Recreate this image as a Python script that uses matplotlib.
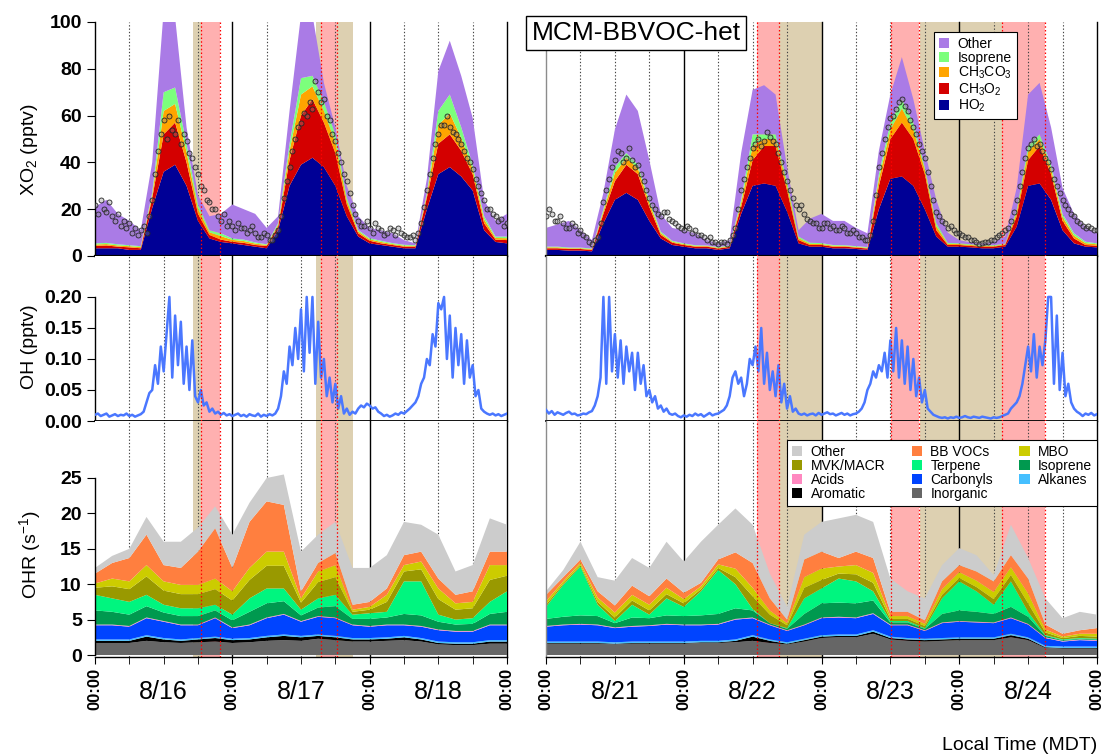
import matplotlib
matplotlib.use("Agg")
import matplotlib.pyplot as plt
import numpy as np
from matplotlib.ticker import FormatStrFormatter

plt.rcParams["font.family"] = ["Liberation Sans", "DejaVu Sans"]
plt.rcParams["mathtext.fontset"] = "custom"
plt.rcParams["mathtext.rm"] = "Liberation Sans"
plt.rcParams["mathtext.default"] = "regular"
plt.rcParams["axes.linewidth"] = 1.0

NARROW = ["Liberation Sans Narrow", "Liberation Sans", "DejaVu Sans"]

# hours since 00:00 of the first day in each block (8/16 and 8/21)
days_l = ["8/16", "8/17", "8/18"]
days_r = ["8/21", "8/22", "8/23", "8/24"]

# smoke-affected periods (tan) and plume intercepts (pink), in block hours
tan_l = [(17.1, 18.5), (38.6, 45.1)]
pink_l = [(18.5, 21.85), (39.5, 42.3)]
tan_r = [(40.6, 48.0), (65.2, 79.4)]
pink_r = [(36.76, 40.6), (60.1, 65.0), (79.4, 86.9)]

# ---- modelled XO2 components (pptv), every 2 h ----
t2_l = np.arange(0, 73, 2)
ho2_l = [3.3, 3.3, 3.3, 2.6, 2.6, 20.5, 36, 39, 30, 15, 7.5, 6.0, 5.4, 4.7, 4.0, 3.3, 11, 30, 39, 42,
         38, 30, 17, 8.3, 5.4, 4.7, 4.0, 3.3, 3.3, 20, 35, 38, 34, 28, 11, 6.0, 5.4]
ch3o2_l = [1.0, 1.2, 0.7, 1.1, 0.7, 4.3, 16, 18, 10, 3.0, 1.5, 1.0, 0.7, 0.9, 0.7, 1.0, 1.5, 11, 21, 25,
           19, 14, 5.0, 1.4, 1.1, 0.7, 0.7, 0.7, 0.7, 5.0, 13, 14, 11, 7.0, 3.0, 1.0, 1.4]
ch3co3_l = [0.6, 0.6, 0.5, 0.5, 0.5, 1.2, 10, 8.0, 4.5, 2.2, 1.1, 1.5, 0.8, 0.8, 0.6, 0.4, 0.8, 4.0, 9.0, 5.5,
            5.0, 4.5, 1.7, 0.8, 0.6, 0.6, 0.4, 0.4, 0.3, 1.1, 8.0, 9.0, 5.5, 2.2, 1.7, 0.7, 0.8]
isop_xo2_l = [0.5, 0.5, 0.5, 0.4, 0.4, 1.0, 8.0, 7.0, 3.5, 1.8, 0.9, 1.2, 0.6, 0.6, 0.5, 0.3, 0.7, 3.0, 7.0, 4.5,
              4.0, 3.5, 1.3, 0.6, 0.5, 0.5, 0.4, 0.4, 0.3, 0.9, 6.0, 8.0, 4.5, 1.8, 1.3, 0.6, 0.7]
other_xo2_l = [15.6, 18.4, 13.0, 10.4, 6.8, 13.0, 35, 30, 7.0, 4.0, 6.0, 8.3, 14.5, 13.0, 12.2, 7.0, 3.0, 14, 27, 26,
               8.0, 3.0, 5.0, 5.9, 4.4, 4.5, 4.2, 2.0, 0.8, 6.0, 17, 23, 22, 20, 7.0, 6.7, 9.7]

t2_r = np.arange(0, 97, 2)
ho2_r = [2.6, 2.6, 2.3, 2.3, 2.0, 14, 24, 27, 24, 15, 7.5, 4.7, 4.0, 3.3, 3.3, 2.6, 3.3, 18, 30, 31,
         30, 19, 5.4, 4.0, 4.0, 3.3, 3.3, 3.0, 2.6, 20, 33, 34, 30, 20, 8.3, 4.0, 4.0, 3.7, 3.3, 3.3,
         4.0, 12.5, 30, 31, 24, 11, 5.4, 4.0, 3.7]
ch3o2_r = [0.7, 0.7, 0.7, 0.7, 0.6, 4.0, 8.0, 12, 11, 6.0, 1.5, 1.0, 0.7, 0.7, 0.7, 0.6, 0.6, 3.0, 11, 16,
           17, 9.0, 1.4, 0.7, 0.7, 0.7, 0.7, 0.6, 0.6, 10, 17, 23, 20, 15, 2.7, 0.7, 0.7, 0.6, 0.7, 0.7,
           0.7, 4.3, 11, 16, 11, 4.0, 2.1, 0.7, 0.7]
ch3co3_r = [0.4, 0.4, 0.3, 0.3, 0.3, 1.1, 3.5, 3.0, 2.5, 1.7, 0.8, 0.4, 0.4, 0.3, 0.3, 0.3, 0.3, 1.7, 6.0, 3.0,
            3.0, 2.2, 0.8, 0.5, 0.4, 0.4, 0.3, 0.3, 0.3, 3.0, 4.0, 6.0, 4.0, 2.0, 1.7, 0.5, 0.4, 0.4, 0.3, 0.3,
            0.3, 1.6, 3.5, 3.0, 2.2, 1.7, 1.2, 0.8, 0.6]
isop_xo2_r = [0.3, 0.3, 0.3, 0.3, 0.3, 0.9, 2.5, 2.0, 1.5, 1.3, 0.6, 0.4, 0.3, 0.3, 0.2, 0.3, 0.3, 1.3, 5.0, 2.0,
              2.0, 1.8, 0.7, 0.5, 0.4, 0.3, 0.3, 0.3, 0.3, 2.0, 3.0, 4.0, 3.0, 1.0, 1.3, 0.4, 0.3, 0.3, 0.3, 0.3,
              0.3, 1.3, 2.5, 2.0, 1.8, 1.3, 1.0, 0.6, 0.4]
other_xo2_r = [8.0, 9.5, 11.4, 7.4, 3.6, 7.0, 16, 25, 23, 17, 7.6, 5.5, 5.6, 5.1, 2.3, 1.6, 2.3, 20, 19, 21,
               17, 6.0, 2.7, 10.3, 12.5, 10.3, 10.4, 7.8, 5.9, 10, 12, 18, 10, 7.0, 10, 4.4, 1.4, 0.8, 0.8, 1.5,
               3.0, 9.3, 22, 22, 16, 11, 8.3, 6.4, 4.3]

# ---- measured XO2 (pptv) and modelled OH (pptv), every 30 min ----
th_l = np.arange(0, 72.5, 0.5)
meas_l = [22, 18, 24, 20, 19, 23, 17, 15, 18, 13, 15, 12, 14, 10, 12, 9, 11, 13,
          10, 17, 24, 35, 45, 52, 58, 50, 60, 54, 52, 58, 48, 52, 49, 44, 42, 38, 35, 30, 28, 24, 23, 20,
          20, 17, 15, 18, 13, 15, 13, 11, 14, 12, 12, 10, 11, 13, 10, 8, 8, 10, 9, 7, 7, 9,
          11, 17, 25, 32, 38, 45, 50, 55, 57, 61, 60, 66, 63, 75, 70, 66, 67, 60, 58, 52, 49, 44, 40, 35, 32, 27, 22, 18,
          15, 13, 13, 15, 12, 10, 14, 12, 11, 9, 10, 12, 11, 9, 12, 10, 9, 8, 8, 9,
          7, 10, 14, 21, 28, 35, 42, 48, 52, 56, 56, 60, 55, 53, 52, 50, 48, 45, 42, 40, 37, 33, 30, 27, 24, 20,
          20, 18, 17, 15, 16, 13, 14]
oh_l = [0.010, 0.012, 0.008, 0.010, 0.012, 0.007, 0.009, 0.011, 0.008, 0.010, 0.009, 0.012, 0.008, 0.010,
        0.007, 0.009, 0.011, 0.015,
        0.03, 0.045, 0.05, 0.09, 0.06, 0.12, 0.08, 0.14, 0.20, 0.07, 0.17, 0.09, 0.16, 0.06, 0.12, 0.05,
        0.13, 0.04, 0.03, 0.05, 0.025, 0.03, 0.015, 0.02,
        0.012, 0.015, 0.010, 0.013, 0.009, 0.011, 0.008, 0.010, 0.012, 0.008, 0.010, 0.007, 0.011, 0.009,
        0.008, 0.012, 0.007, 0.010, 0.008, 0.011, 0.009, 0.012,
        0.02, 0.04, 0.08, 0.06, 0.12, 0.09, 0.15, 0.10, 0.18, 0.08, 0.20, 0.11, 0.20, 0.06, 0.16, 0.07,
        0.10, 0.04, 0.07, 0.03, 0.06, 0.02, 0.04, 0.012, 0.02, 0.010, 0.015, 0.012,
        0.02, 0.025, 0.022, 0.028, 0.025, 0.02, 0.022, 0.015, 0.012, 0.008, 0.010, 0.007, 0.009, 0.012,
        0.010, 0.014, 0.012, 0.016, 0.02, 0.025,
        0.03, 0.04, 0.06, 0.07, 0.10, 0.09, 0.14, 0.12, 0.19, 0.18, 0.20, 0.10, 0.17, 0.07, 0.15, 0.09,
        0.14, 0.06, 0.13, 0.07, 0.09, 0.04, 0.05, 0.02, 0.015, 0.012, 0.010, 0.012, 0.009, 0.011, 0.008,
        0.010, 0.012]

th_r = np.arange(0, 96.5, 0.5)
meas_r = [17, 20, 18, 15, 15, 17, 14, 12, 12, 14, 13, 10, 11, 9, 8, 6, 5, 7,
          8, 14, 23, 28, 33, 38, 41, 45, 44, 40, 42, 46, 41, 38, 39, 35, 32, 28, 25, 22, 20, 18, 17, 19,
          19, 16, 15, 14,
          13, 12, 11, 13, 12, 10, 11, 9, 9, 8, 7, 8, 6, 6, 5, 6, 6, 5,
          7, 9, 12, 20, 28, 33, 38, 42, 46, 48, 50, 47, 49, 53, 51, 49, 48, 44, 40, 36, 32, 28, 25, 22,
          20, 22, 18, 16,
          15, 14, 14, 12, 12, 14, 14, 12, 13, 11, 11, 13, 12, 10, 10, 11, 9.7, 8, 8, 7,
          7, 9, 15, 26, 38, 44, 50, 55, 59, 60, 63, 66, 67, 64, 62, 58, 55, 52, 48, 45, 42, 36, 30, 24,
          19, 17,
          15, 14, 12, 13, 11, 10, 10, 9, 8, 8, 7, 7, 6, 5, 5.4, 6, 6, 7, 6.8, 8, 9, 10, 11, 12,
          15, 19, 24, 30, 36, 42, 46, 48, 50, 47, 48, 45, 42, 40, 37, 33, 30, 27, 24, 22, 20, 18, 17, 15,
          14, 13, 12, 13, 12, 11, 11]
oh_r = [0.018, 0.012, 0.016, 0.010, 0.014, 0.012, 0.010, 0.013, 0.015, 0.011, 0.012, 0.009, 0.010, 0.012,
        0.011, 0.014, 0.016, 0.025,
        0.04, 0.07, 0.20, 0.06, 0.20, 0.08, 0.14, 0.07, 0.13, 0.06, 0.12, 0.08, 0.11, 0.05, 0.11, 0.06,
        0.09, 0.04, 0.05, 0.03, 0.04, 0.02, 0.025, 0.015, 0.02, 0.012, 0.010, 0.012,
        0.008, 0.006, 0.009, 0.007, 0.010, 0.008, 0.012, 0.009, 0.011, 0.007, 0.010, 0.013, 0.009, 0.011,
        0.012, 0.015, 0.018, 0.025,
        0.04, 0.07, 0.08, 0.06, 0.07, 0.04, 0.06, 0.10, 0.09, 0.12, 0.08, 0.15, 0.06, 0.11, 0.05, 0.08,
        0.04, 0.09, 0.03, 0.06, 0.02, 0.04, 0.015, 0.02, 0.012, 0.010, 0.012, 0.009,
        0.011, 0.012, 0.009, 0.013, 0.010, 0.012, 0.014, 0.011, 0.012, 0.009, 0.011, 0.013, 0.010, 0.012,
        0.009, 0.011, 0.012, 0.015, 0.02, 0.03,
        0.05, 0.06, 0.08, 0.07, 0.09, 0.08, 0.11, 0.07, 0.13, 0.08, 0.15, 0.07, 0.13, 0.06, 0.12, 0.05,
        0.10, 0.04, 0.07, 0.03, 0.05, 0.02, 0.015, 0.01, 0.008, 0.006,
        0.005, 0.006, 0.004, 0.006, 0.005, 0.007, 0.005, 0.006, 0.008, 0.006, 0.005, 0.007, 0.006, 0.005,
        0.007, 0.006, 0.005, 0.004, 0.006, 0.005, 0.006, 0.008, 0.010, 0.012,
        0.02, 0.025, 0.03, 0.04, 0.06, 0.09, 0.12, 0.08, 0.14, 0.07, 0.12, 0.09, 0.13, 0.20, 0.20, 0.06,
        0.17, 0.05, 0.11, 0.04, 0.06, 0.03, 0.02, 0.015, 0.012, 0.008, 0.012, 0.010, 0.013, 0.009, 0.011]

# ---- OH reactivity by class (s-1), every 3 h ----
t3_l = np.arange(0, 73, 3)
inorganic_l = [1.7, 1.7, 1.7, 2.0, 1.8, 1.7, 1.8, 1.9, 1.7, 1.8, 2.0, 2.1, 2.0, 2.3, 2.1, 1.9, 1.9, 2.0, 2.1, 1.9, 1.5, 1.4, 1.4, 1.6, 1.6]
aromatic_l = [0.3, 0.3, 0.3, 0.6, 0.4, 0.3, 0.4, 0.5, 0.4, 0.4, 0.5, 0.6, 0.5, 0.4, 0.4, 0.3, 0.3, 0.3, 0.4, 0.3, 0.2, 0.2, 0.2, 0.3, 0.3]
alkanes_l = [0.2, 0.2, 0.2, 0.2, 0.2, 0.2, 0.2, 0.2, 0.2, 0.2, 0.2, 0.2, 0.2, 0.2, 0.2, 0.2, 0.2, 0.2, 0.2, 0.2, 0.2, 0.2, 0.2, 0.2, 0.2]
carbonyls_l = [2.0, 2.0, 1.8, 2.4, 2.3, 2.0, 1.8, 2.6, 1.5, 1.8, 2.5, 2.8, 2.0, 2.5, 2.5, 1.8, 1.6, 1.7, 1.5, 1.6, 1.6, 1.5, 1.5, 2.1, 2.1]
acids_l = [0.1, 0.1, 0.1, 0.1, 0.1, 0.1, 0.1, 0.1, 0.1, 0.1, 0.1, 0.1, 0.1, 0.1, 0.1, 0.1, 0.1, 0.1, 0.1, 0.1, 0.1, 0.1, 0.1, 0.1, 0.1]
isoprene_l = [2.0, 1.8, 1.6, 1.6, 1.2, 1.2, 1.2, 1.0, 1.0, 1.8, 2.0, 1.8, 0.8, 1.2, 1.6, 0.8, 1.0, 1.0, 1.5, 1.5, 1.1, 0.9, 1.0, 1.5, 1.8]
terpene_l = [2.2, 1.9, 1.8, 1.6, 1.1, 1.1, 1.1, 0.8, 0.8, 1.9, 2.1, 1.8, 0.8, 1.3, 1.6, 0.6, 0.8, 0.8, 4.6, 4.8, 1.0, 0.7, 0.8, 1.7, 2.9]
mvk_l = [1.0, 1.7, 1.8, 2.6, 2.0, 2.0, 2.0, 2.2, 2.0, 2.6, 3.2, 3.2, 1.0, 2.3, 2.5, 0.4, 0.5, 1.4, 1.4, 1.7, 2.2, 1.4, 1.4, 3.1, 2.2]
mbo_l = [0.6, 1.1, 1.1, 1.6, 1.3, 1.3, 1.3, 1.5, 1.3, 1.7, 2.0, 2.0, 0.6, 1.5, 1.7, 0.3, 0.4, 1.0, 0.9, 1.1, 1.5, 0.9, 0.9, 2.1, 1.5]
bbvoc_l = [1.4, 2.2, 3.3, 4.3, 2.3, 2.4, 4.7, 7.1, 3.3, 6.5, 7.1, 6.6, 1.0, 1.2, 1.7, 0.7, 0.7, 0.9, 1.4, 1.4, 1.4, 1.2, 1.5, 1.9, 1.9]
other_ohr_l = [0.8, 1.0, 1.3, 2.5, 3.3, 3.7, 3.4, 3.1, 4.7, 2.7, 3.3, 4.3, 5.6, 4.0, 4.4, 5.2, 4.8, 4.7, 4.7, 3.8, 6.2, 3.3, 3.7, 4.7, 3.8]

t3_r = np.arange(0, 97, 3)
inorganic_r = [1.6, 1.6, 1.6, 1.6, 1.5, 1.6, 1.6, 1.6, 1.6, 1.7, 1.7, 1.8, 2.0, 1.7, 1.5, 1.9, 2.4, 2.5, 2.5, 3.0, 2.2, 2.0, 1.9, 2.0, 2.1, 2.1, 2.1, 2.5, 2.1, 1.0, 0.9, 0.9, 0.9]
aromatic_r = [0.1, 0.1, 0.1, 0.1, 0.1, 0.1, 0.1, 0.1, 0.1, 0.1, 0.1, 0.2, 0.6, 0.3, 0.1, 0.2, 0.2, 0.2, 0.2, 0.3, 0.2, 0.2, 0.2, 0.2, 0.2, 0.2, 0.2, 0.3, 0.2, 0.1, 0.1, 0.1, 0.1]
alkanes_r = [0.2, 0.2, 0.2, 0.2, 0.2, 0.2, 0.2, 0.2, 0.2, 0.2, 0.2, 0.2, 0.2, 0.2, 0.2, 0.2, 0.2, 0.2, 0.2, 0.2, 0.2, 0.2, 0.2, 0.2, 0.2, 0.2, 0.2, 0.2, 0.2, 0.2, 0.2, 0.2, 0.2]
carbonyls_r = [2.1, 2.3, 2.4, 2.3, 2.0, 2.1, 2.2, 2.4, 2.3, 2.2, 2.3, 2.8, 2.4, 2.0, 1.6, 1.9, 2.4, 2.4, 2.3, 2.3, 1.6, 1.8, 1.1, 2.1, 2.2, 2.1, 2.0, 2.2, 1.8, 1.1, 0.7, 0.9, 0.8]
acids_r = [0.1, 0.1, 0.1, 0.1, 0.1, 0.1, 0.1, 0.1, 0.1, 0.1, 0.1, 0.1, 0.1, 0.1, 0.1, 0.1, 0.1, 0.1, 0.1, 0.1, 0.1, 0.1, 0.1, 0.1, 0.1, 0.1, 0.1, 0.1, 0.1, 0.1, 0.1, 0.1, 0.1]
isoprene_r = [1.0, 1.1, 1.2, 1.2, 0.6, 1.2, 1.0, 1.2, 1.2, 1.3, 1.4, 1.5, 1.0, 0.2, 0.2, 1.5, 2.0, 2.0, 2.0, 1.8, 0.3, 0.3, 0.2, 1.2, 1.5, 1.4, 1.2, 1.5, 1.0, 0.2, 0.1, 0.1, 0.1]
terpene_r = [1.7, 4.5, 6.9, 1.6, 0.3, 1.8, 0.5, 2.4, 1.3, 3.4, 6.2, 3.4, 0.2, 0.0, 0.1, 2.2, 2.1, 3.4, 3.1, 1.3, 0.2, 0.2, 0.1, 2.2, 4.1, 2.9, 1.3, 3.6, 0.7, 0.1, 0.1, 0.1, 0.1]
mvk_r = [0.3, 0.2, 0.2, 0.4, 0.5, 0.6, 0.6, 0.6, 0.5, 0.3, 0.3, 1.0, 1.8, 1.2, 0.4, 1.5, 1.2, 0.7, 1.0, 1.2, 0.3, 0.3, 0.3, 0.5, 0.5, 0.6, 0.8, 0.9, 1.2, 0.4, 0.2, 0.3, 0.3]
mbo_r = [0.5, 0.3, 0.3, 0.6, 0.7, 0.8, 0.8, 0.9, 0.6, 0.4, 0.5, 1.2, 1.2, 0.6, 0.3, 1.5, 1.6, 1.0, 1.3, 1.4, 0.4, 0.4, 0.3, 0.8, 0.8, 0.9, 1.0, 1.1, 1.4, 0.4, 0.2, 0.3, 0.4]
bbvoc_r = [0.9, 0.6, 0.5, 0.9, 1.0, 1.3, 1.2, 1.3, 0.9, 0.5, 0.7, 2.3, 3.5, 1.7, 0.5, 2.5, 2.4, 1.2, 1.9, 2.1, 0.6, 0.6, 0.5, 1.1, 1.0, 1.3, 1.5, 1.7, 2.1, 0.7, 0.4, 0.5, 0.8]
other_ohr_r = [0.5, 1.0, 2.5, 2.0, 3.5, 3.9, 4.0, 5.2, 4.4, 5.8, 4.9, 6.2, 5.4, 3.5, 1.8, 3.5, 4.2, 5.6, 5.2, 5.1, 4.7, 2.9, 3.1, 2.3, 2.4, 2.3, 0.9, 4.3, 2.9, 3.7, 2.2, 2.6, 1.9]

xo2_names = ["HO$_2$", "CH$_3$O$_2$", "CH$_3$CO$_3$", "Isoprene", "Other"]
xo2_colors = ["#000096", "#D40000", "#FFA500", "#7CFF7C", "#AA7BE6"]
ohr_names = ["Inorganic", "Aromatic", "Alkanes", "Carbonyls", "Acids", "Isoprene",
             "Terpene", "MVK/MACR", "MBO", "BB VOCs", "Other"]
ohr_colors = ["#666666", "#000000", "#45BFFF", "#0044FF", "#FF88C0", "#00994F",
              "#00F57F", "#999900", "#CCCC00", "#FF7F3F", "#CCCCCC"]
TAN = "#DDD0B1"
PINK = "#FFB0B0"

W, H = 1105, 755
fig = plt.figure(figsize=(W / 100, H / 100), dpi=100)


def add_axes(x0, x1, y0, y1):
    return fig.add_axes([x0 / W, 1 - y1 / H, (x1 - x0) / W, (y1 - y0) / H])


def shade(ax, tan, pink, span):
    for a, b in tan:
        ax.axvspan(a, b, color=TAN, lw=0, zorder=0)
    for a, b in pink:
        ax.axvspan(a, b, color=PINK, lw=0, zorder=0.2)
    for h in range(6, span + 1, 6):
        if h % 24 == 0:
            ax.axvline(h, color="black", lw=1.0, zorder=0.5, clip_on=False)
        else:
            ax.axvline(h, color="#444444", lw=0.8, ls=(0, (1.2, 1.8)), zorder=0.5)
    for a, b in pink:
        for e in (a, b):
            ax.axvline(e, color="red", lw=0.9, ls=(0, (1.2, 1.8)), zorder=6)


def draw_column(x0, x1, span, days, tan, pink, t2, xo2, th, meas, oh, t3, ohr, first):
    ax_top = add_axes(x0, x1, 22, 256)
    ax_mid = add_axes(x0, x1, 256, 421)
    ax_bot = add_axes(x0, x1, 421, 657)
    for ax in (ax_top, ax_mid, ax_bot):
        ax.set_xlim(0, span)
        shade(ax, tan, pink, span)
        ax.spines["top"].set_visible(False)
        ax.spines["right"].set_visible(False)

    xo2_fills = ax_top.stackplot(t2, *xo2, colors=xo2_colors, lw=0, zorder=2)
    ax_top.plot(th, meas, "o", ms=3.6, mfc=(0.55, 0.55, 0.55, 0.35), mec="#262626",
                mew=0.6, zorder=3)
    ax_top.set_ylim(0, 100)
    ax_top.spines["bottom"].set_linewidth(1.6)
    ax_top.tick_params(axis="x", bottom=False, labelbottom=False)

    ax_mid.plot(th, oh, color="#4A77FF", lw=1.8, zorder=3)
    ax_mid.set_ylim(0, 0.266)
    ax_mid.spines["bottom"].set_linewidth(1.3)
    ax_mid.tick_params(axis="x", bottom=False, labelbottom=False)

    ohr_fills = ax_bot.stackplot(t3, *ohr, colors=ohr_colors, lw=0, zorder=2)
    ax_bot.set_ylim(-0.28, 33.05)
    ax_bot.set_xticks(np.arange(0, span + 1, 24))
    ax_bot.set_xticklabels(["00:00"] * (span // 24 + 1), rotation=90,
                           fontsize=12, fontweight="bold")
    ax_bot.set_xticks(np.arange(0, span + 1, 6), minor=True)
    ax_bot.tick_params(axis="x", which="both", length=5, direction="out", pad=3)
    for i, d in enumerate(days):
        ax_bot.text(12 + 24 * i, -0.148, d, transform=ax_bot.get_xaxis_transform(),
                    ha="center", va="center", fontsize=18, family=NARROW)

    if first:
        ax_top.set_yticks(np.arange(0, 101, 20))
        ax_mid.set_yticks(np.arange(0, 0.201, 0.05))
        ax_mid.yaxis.set_major_formatter(FormatStrFormatter("%.2f"))
        ax_mid.spines["left"].set_bounds(0, 0.2)
        ax_bot.set_yticks(np.arange(0, 26, 5))
        ax_bot.spines["left"].set_bounds(0, 25)
        for ax in (ax_top, ax_mid, ax_bot):
            ax.tick_params(axis="y", labelsize=14, length=6, direction="out")
            for lab in ax.get_yticklabels():
                lab.set_fontweight("bold")
    else:
        for ax in (ax_top, ax_mid, ax_bot):
            ax.tick_params(axis="y", left=False, labelleft=False)
            ax.spines["left"].set_color("#8C8C8C")

        leg = ax_top.legend(xo2_fills[::-1], xo2_names[::-1], loc="upper left",
                            bbox_to_anchor=(0.704, 0.957), borderaxespad=0, fontsize=10,
                            handlelength=0.75, handleheight=0.75, handletextpad=0.6,
                            labelspacing=0.0, borderpad=0.35, fancybox=False,
                            edgecolor="black", framealpha=1)
        leg.get_frame().set_linewidth(0.8)
        leg.set_zorder(10)

        order = [10, 7, 4, 1, 9, 6, 3, 0, 8, 5, 2]
        leg2 = ax_bot.legend([ohr_fills[i] for i in order], [ohr_names[i] for i in order],
                             loc="upper right", bbox_to_anchor=(1.0, 0.919), borderaxespad=0,
                             ncol=3, fontsize=10, handlelength=0.75, handleheight=0.75,
                             handletextpad=0.6, labelspacing=0.0, columnspacing=1.9,
                             borderpad=0.35, fancybox=False, edgecolor="black",
                             framealpha=1)
        leg2.get_frame().set_linewidth(0.8)
        leg2.set_zorder(10)


draw_column(95, 507, 72, days_l, tan_l, pink_l,
            t2_l, [ho2_l, ch3o2_l, ch3co3_l, isop_xo2_l, other_xo2_l],
            th_l, meas_l, oh_l,
            t3_l, [inorganic_l, aromatic_l, alkanes_l, carbonyls_l, acids_l, isoprene_l,
                   terpene_l, mvk_l, mbo_l, bbvoc_l, other_ohr_l],
            first=True)
draw_column(546, 1097, 96, days_r, tan_r, pink_r,
            t2_r, [ho2_r, ch3o2_r, ch3co3_r, isop_xo2_r, other_xo2_r],
            th_r, meas_r, oh_r,
            t3_r, [inorganic_r, aromatic_r, alkanes_r, carbonyls_r, acids_r, isoprene_r,
                   terpene_r, mvk_r, mbo_r, bbvoc_r, other_ohr_r],
            first=False)

fig.text(30 / W, 1 - 150 / H, "XO$_2$ (pptv)", rotation=90, ha="center", va="center", fontsize=14)
fig.text(30 / W, 1 - 347 / H, "OH (pptv)", rotation=90, ha="center", va="center", fontsize=14)
fig.text(30 / W, 1 - 555 / H, "OHR (s$^{-1}$)", rotation=90, ha="center", va="center", fontsize=14)

fig.text(636 / W, 1 - 33 / H, "MCM-BBVOC-het", ha="center", va="center", fontsize=19,
         bbox=dict(boxstyle="square,pad=0.2", fc="white", ec="black", lw=1.0), zorder=20)
fig.text(1097 / W, 1 - 745 / H, "Local Time (MDT)", ha="right", va="center",
         fontsize=14, family=NARROW)

fig.savefig("out.png", dpi=100)
